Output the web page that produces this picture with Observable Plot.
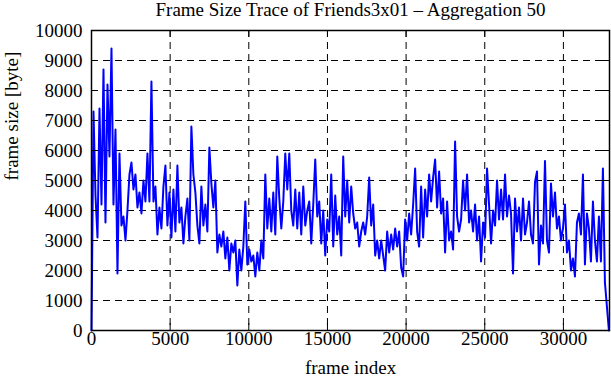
<!DOCTYPE html>
<html><head><meta charset="utf-8">
<script src="https://cdn.jsdelivr.net/npm/d3@7"></script>
<script src="https://cdn.jsdelivr.net/npm/@observablehq/plot@0.6"></script>
<style>body{margin:0;background:#fff} svg{display:block} svg text{font-family:'Liberation Serif','Times New Roman',serif !important;}</style>
</head><body><div id="chart"></div>
<script>
const title = "Frame Size Trace of Friends3x01 – Aggregation 50";
const xLabel = "frame index";
const yLabel = "frame size [byte]";
const xTicks = [0, 5000, 10000, 15000, 20000, 25000, 30000];
const yTicks = [0, 1000, 2000, 3000, 4000, 5000, 6000, 7000, 8000, 9000, 10000];
const xMax = 32930;
const frameStep = 127;
const frameSize = [
  0,7300,4500,3100,7400,4200,8700,3600,8200,5800,
  9400,4200,6700,1900,5900,3500,3800,3000,4000,5200,
  5600,4700,5200,4100,4600,3900,5000,4300,5900,4300,
  8300,4300,4800,3200,4100,3400,4800,5500,3500,4600,
  3100,4700,3300,5500,
  3600,4100,2900,3800,4400,3000,6800,5200,4600,3500,
  2900,4800,3500,4200,3300,6100,4900,4100,5000,2600,
  3200,2800,3300,2400,3100,2000,2900,2600,3000,1500,
  2700,2000,2800,4300,2200,2700,2300,2500,1800,2600,
  2000,3000,2400,5200,
  3400,4400,3300,4600,3200,5800,4400,3400,4300,5900,
  4700,5900,4000,3500,4700,3400,4600,3200,4800,3500,
  4000,4300,2900,4200,5700,3800,4300,2900,4000,2500,
  3700,3300,5200,2800,4500,3200,3800,2500,5800,3800,
  5000,3600,4800,
  3900,3400,3600,2800,3300,3600,3200,3800,5100,3500,
  4200,2500,3000,2400,3000,2500,2000,3300,2600,3200,
  2700,3400,2800,3300,2100,1800,3700,3000,3900,3200,
  4200,5400,3300,2800,4800,3100,4700,3800,5200,4300,
  5100,5700,4100,
  5300,3900,4400,2600,4300,3000,3300,2700,6300,3800,
  3300,3700,5000,4000,5200,3600,4000,3300,4200,3000,
  3800,2300,3600,3100,5400,4200,2900,4000,3500,5000,
  3700,4700,3700,5200,3800,4500,3900,1900,4400,3300,
  4100,3000,4400,3200,
  3600,4300,3200,2900,4950,5300,2200,3500,2900,5650,
  3000,2600,4900,3800,4600,3400,3800,3000,3400,4200,
  2600,3000,2000,2400,1800,3600,3900,3200,5200,2200,
  3900,3400,2300,4300,3000,2300,3800,2300,5400,1600,
  800,0
];
const data = frameSize.map((v, i) => ({frame: i * frameStep, size: v}));
const font = "'Liberation Serif', 'Times New Roman', serif";

const chart = Plot.plot({
  width: 611,
  height: 380,
  marginLeft: 91,
  marginRight: 2,
  marginTop: 30,
  marginBottom: 50,
  style: {fontFamily: font, fontSize: "19px", background: "white", color: "black"},
  x: {domain: [0, xMax], axis: null},
  y: {domain: [0, 10000], axis: null},
  marks: [
    Plot.gridX(xTicks.slice(1), {stroke: "black", strokeOpacity: 1, strokeWidth: 1, strokeDasharray: "7,5"}),
    Plot.gridY(yTicks.slice(1, -1), {stroke: "black", strokeOpacity: 1, strokeWidth: 1, strokeDasharray: "7,5"}),
    Plot.lineY(data, {x: "frame", y: "size", stroke: "#0000ff", strokeWidth: 2}),
    Plot.tickX(xTicks, {x: d => d, stroke: "black", insetTop: 293}),
    Plot.tickX(xTicks, {x: d => d, stroke: "black", insetBottom: 293}),
    Plot.tickY(yTicks, {y: d => d, stroke: "black", insetRight: 511}),
    Plot.tickY(yTicks, {y: d => d, stroke: "black", insetLeft: 511}),
    Plot.frame({stroke: "black", strokeWidth: 1.5}),
    Plot.text(xTicks, {x: d => d, text: d => String(d), frameAnchor: "bottom", dy: 14, fill: "black", fontFamily: font, fontSize: 19}),
    Plot.text(yTicks, {y: d => d, text: d => String(d), frameAnchor: "left", dx: -9, textAnchor: "end", fill: "black", fontFamily: font, fontSize: 19}),
    Plot.text([title], {text: d => d, frameAnchor: "top", dy: -28, fill: "black", fontFamily: font, fontSize: 19}),
    Plot.text([xLabel], {text: d => d, frameAnchor: "bottom", dy: 43, fill: "black", fontFamily: font, fontSize: 19}),
    Plot.text([yLabel], {text: d => d, frameAnchor: "left", dx: -80, rotate: -90, fill: "black", fontFamily: font, fontSize: 19})
  ]
});
document.getElementById("chart").append(chart);
</script>
</body></html>
